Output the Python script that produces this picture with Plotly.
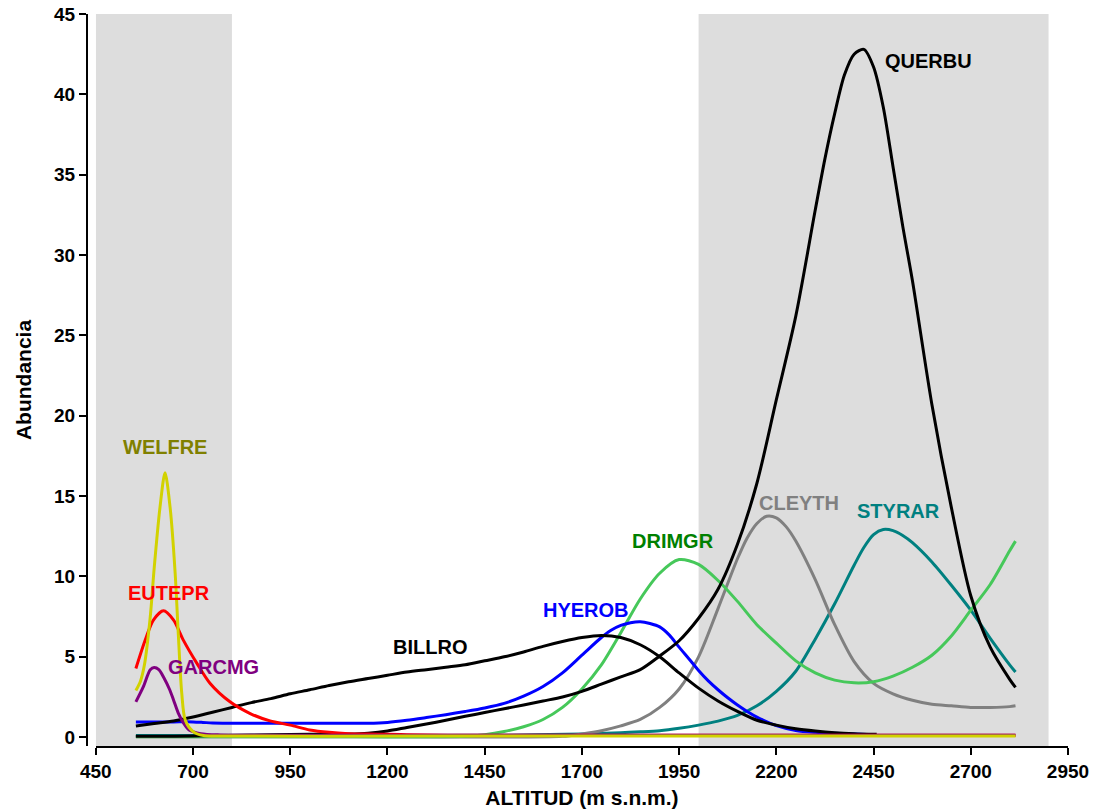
import plotly.graph_objects as go

# Abundance of each species along the altitudinal gradient (m a.s.l.)
WELFRE_X = [553, 565, 575, 590, 600, 615, 628, 641, 654, 662, 671, 680, 701, 727, 760, 1200, 2000, 2815]
WELFRE_Y = [2.9, 3.5, 4.5, 7.5, 10.5, 14.3, 16.45, 14.3, 10.2, 6.45, 2.72, 1.06, 0.33, 0.1, 0.07, 0.07, 0.07, 0.07]

EUTEPR_X = [553, 577, 598, 624, 650, 675, 710, 744, 795, 847, 898, 950, 1000, 1050, 1100, 1150, 1200, 1250, 1400, 2000, 2815]
EUTEPR_Y = [4.27, 6.04, 7.28, 7.86, 7.28, 6.04, 4.59, 3.34, 2.2, 1.47, 1.01, 0.75, 0.45, 0.3, 0.22, 0.19, 0.18, 0.15, 0.12, 0.12, 0.12]

GARCMG_X = [553, 572, 590, 600, 612, 625, 640, 650, 662, 675, 690, 720, 770, 850, 2000, 2815]
GARCMG_Y = [2.2, 3.13, 4.2, 4.33, 4.2, 3.7, 2.95, 2.3, 1.5, 0.9, 0.45, 0.22, 0.14, 0.12, 0.12, 0.12]

BILLRO_X = [553, 600, 650, 700, 750, 800, 850, 900, 950, 1000, 1050, 1100, 1150, 1200, 1250, 1300,
            1350, 1400, 1450, 1500, 1550, 1600, 1650, 1700, 1750, 1800, 1850, 1900, 1950, 2000,
            2050, 2100, 2150, 2200, 2250, 2300, 2350, 2400, 2458]
BILLRO_Y = [0.7, 0.85, 1.0, 1.25, 1.55, 1.85, 2.15, 2.4, 2.7, 2.95, 3.22, 3.45, 3.65, 3.85, 4.05, 4.2,
            4.35, 4.5, 4.75, 5.0, 5.3, 5.65, 5.95, 6.2, 6.33, 6.2, 5.75, 5.0, 4.0, 3.05,
            2.25, 1.6, 1.05, 0.75, 0.52, 0.38, 0.28, 0.22, 0.18]

HYEROB_X = [553, 600, 650, 700, 725, 750, 800, 900, 1000, 1100, 1150, 1200, 1250, 1300, 1350, 1400, 1450,
            1500, 1550, 1600, 1650, 1700, 1750, 1775, 1800, 1825, 1850, 1875, 1900, 1925, 1950, 1975,
            2000, 2025, 2050, 2075, 2100, 2125, 2150, 2200, 2250, 2300, 2350, 2400, 2450]
HYEROB_Y = [0.95, 0.95, 0.95, 0.95, 0.92, 0.88, 0.87, 0.87, 0.87, 0.87, 0.87, 0.92, 1.05, 1.22, 1.4, 1.6, 1.82,
            2.1, 2.55, 3.15, 4.0, 5.1, 6.2, 6.65, 6.95, 7.12, 7.18, 7.07, 6.86, 6.35, 5.6, 4.88,
            4.15, 3.5, 2.95, 2.45, 2.0, 1.6, 1.25, 0.72, 0.42, 0.3, 0.24, 0.2, 0.15]

DRIMGR_X = [553, 1000, 1400, 1450, 1500, 1550, 1600, 1650, 1700, 1750, 1800, 1850, 1900, 1950,
            2000, 2050, 2100, 2150, 2200, 2250, 2300, 2350, 2400, 2450, 2500, 2550, 2600, 2650, 2700,
            2750, 2800, 2815]
DRIMGR_Y = [0.02, 0.02, 0.05, 0.15, 0.35, 0.65, 1.1, 1.85, 3.0, 4.5, 6.5, 8.6, 10.2, 11.05,
            10.75, 9.75, 8.45, 7.0, 5.85, 4.75, 4.0, 3.55, 3.38, 3.45, 3.8, 4.35, 5.1, 6.3, 7.9,
            9.5, 11.6, 12.2]

CLEYTH_X = [553, 1200, 1650, 1700, 1750, 1800, 1850, 1900, 1950, 2000, 2050, 2100, 2125, 2150, 2175, 2200,
            2225, 2250, 2300, 2350, 2400, 2450, 2500, 2550, 2600, 2650, 2700, 2750, 2800, 2815]
CLEYTH_Y = [0.02, 0.02, 0.05, 0.2, 0.4, 0.7, 1.1, 1.85, 3.0, 5.0, 8.0, 11.1, 12.4, 13.3, 13.75, 13.65,
            13.1, 12.2, 9.8, 7.0, 4.7, 3.35, 2.7, 2.3, 2.05, 1.95, 1.85, 1.85, 1.9, 1.95]

STYRAR_X = [553, 700, 1000, 1500, 1700, 1800, 1850, 1900, 1950, 2000, 2050, 2100, 2150, 2200, 2250,
            2300, 2350, 2400, 2425, 2450, 2475, 2500, 2525, 2550, 2600, 2650, 2700, 2750, 2800, 2815]
STYRAR_Y = [0.1, 0.1, 0.1, 0.12, 0.2, 0.28, 0.33, 0.4, 0.55, 0.75, 1.0, 1.35, 1.95, 2.85, 4.1,
            6.1, 8.3, 10.7, 11.8, 12.6, 12.92, 12.85, 12.55, 12.1, 10.9, 9.45, 7.9, 6.15, 4.5, 4.05]

QUERBU_X = [553, 600, 700, 800, 900, 1000, 1100, 1150, 1200, 1250, 1300, 1350, 1400, 1450, 1500, 1550,
            1600, 1650, 1700, 1750, 1800, 1850, 1900, 1950, 2000, 2050, 2100, 2150, 2200, 2250,
            2300, 2325, 2350, 2375, 2400, 2425, 2450, 2475, 2500, 2525, 2550, 2600, 2650, 2700,
            2750, 2800, 2815]
QUERBU_Y = [0.05, 0.05, 0.08, 0.12, 0.15, 0.18, 0.2, 0.25, 0.38, 0.6, 0.82, 1.05, 1.3, 1.53, 1.77, 2.0,
            2.25, 2.5, 2.85, 3.3, 3.75, 4.2, 5.05, 6.0, 7.4, 9.2, 12.0, 15.8, 21.0, 26.2,
            32.8, 36.0, 38.8, 41.2, 42.5, 42.8, 41.7, 39.2, 35.5, 31.8, 28.4, 20.7, 14.3, 8.8,
            5.6, 3.6, 3.1]

# Shaded altitude bands
BANDS = [(450, 800), (2000, 2900)]

X_TICKS = [450, 700, 950, 1200, 1450, 1700, 1950, 2200, 2450, 2700, 2950]
Y_TICKS = [0, 5, 10, 15, 20, 25, 30, 35, 40, 45]

# name, x, y, line colour, label colour, label position (x, y)
SERIES = [
    ("STYRAR", STYRAR_X, STYRAR_Y, "#008080", "#008080", (2514, 14.1)),
    ("CLEYTH", CLEYTH_X, CLEYTH_Y, "#808080", "#808080", (2259, 14.6)),
    ("DRIMGR", DRIMGR_X, DRIMGR_Y, "#46c85a", "#008000", (1935, 12.2)),
    ("HYEROB", HYEROB_X, HYEROB_Y, "#0000ff", "#0000ff", (1711, 7.9)),
    ("BILLRO", BILLRO_X, BILLRO_Y, "#000000", "#000000", (1310, 5.6)),
    ("QUERBU", QUERBU_X, QUERBU_Y, "#000000", "#000000", (2591, 42.1)),
    ("EUTEPR", EUTEPR_X, EUTEPR_Y, "#ff0000", "#ff0000", (639, 9.0)),
    ("GARCMG", GARCMG_X, GARCMG_Y, "#800080", "#800080", (752, 4.35)),
    ("WELFRE", WELFRE_X, WELFRE_Y, "#d2d200", "#808000", (628, 18.05)),
]

FONT = "Liberation Sans, Arial, sans-serif"

fig = go.Figure()

for name, xs, ys, lc, tc, (lx, ly) in SERIES:
    fig.add_trace(go.Scatter(
        x=xs, y=ys, mode="lines", name=name,
        line=dict(color=lc, width=3, shape="spline", smoothing=0.8),
        showlegend=False,
    ))
    fig.add_annotation(
        x=lx, y=ly, text=name, showarrow=False,
        font=dict(family=FONT, size=20, color=tc, weight="bold"),
        xanchor="center", yanchor="middle",
    )

for x0, x1 in BANDS:
    fig.add_shape(type="rect", xref="x", yref="y", x0=x0, x1=x1, y0=-0.55, y1=45,
                  fillcolor="#dddddd", line=dict(width=0), layer="below")

fig.update_layout(
    width=1101, height=811,
    margin=dict(l=87, r=33, t=14, b=65),
    paper_bgcolor="white", plot_bgcolor="white",
    font=dict(family=FONT, color="black"),
    xaxis=dict(
        domain=[0.009, 1], range=[450, 2950], tickvals=X_TICKS,
        showgrid=False, zeroline=False,
        showline=True, linecolor="black", linewidth=2,
        ticks="outside", ticklen=7, tickwidth=2, tickcolor="black",
        tickfont=dict(family=FONT, size=19, color="black", weight="bold"),
        title=dict(text="ALTITUD (m s.n.m.)", standoff=10,
                   font=dict(family=FONT, size=21, color="black", weight="bold")),
        automargin=False,
    ),
    yaxis=dict(
        anchor="free", position=0, range=[-0.55, 45], tickvals=Y_TICKS,
        showgrid=False, zeroline=False,
        showline=True, linecolor="black", linewidth=2,
        ticks="outside", ticklen=7, tickwidth=2, tickcolor="black",
        tickfont=dict(family=FONT, size=19, color="black", weight="bold"),
        title=dict(text="Abundancia", standoff=16,
                   font=dict(family=FONT, size=21, color="black", weight="bold")),
        automargin=False,
    ),
)

fig.write_html("out.html")
